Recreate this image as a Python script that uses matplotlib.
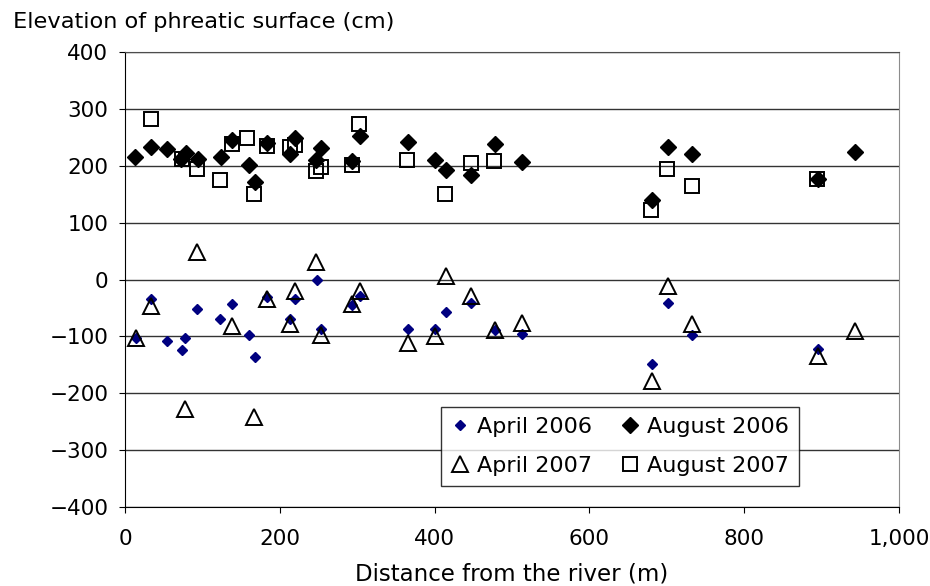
import numpy as np
import matplotlib.pyplot as plt
from matplotlib.ticker import FuncFormatter

# Datos (distancia en m, elevación en cm)
x_apr06 = [14, 33, 54, 74, 78, 93, 123, 138, 160, 168, 183, 213, 219, 248, 253,
           293, 303, 365, 401, 415, 447, 478, 513, 681, 701, 733, 895]
y_apr06 = [-103, -35, -109, -124, -103, -52, -70, -43, -98, -136, -30, -69, -35, 0, -87,
           -44, -29, -87, -87, -58, -42, -88, -95, -148, -41, -97, -123]

x_aug06 = [13, 33, 54, 72, 79, 94, 124, 138, 160, 168, 184, 213, 220, 247, 253,
           293, 304, 365, 401, 415, 447, 478, 513, 681, 701, 733, 895, 943]
y_aug06 = [215, 233, 229, 211, 222, 212, 215, 245, 201, 172, 240, 221, 248, 210, 231,
           209, 253, 242, 210, 192, 184, 238, 206, 140, 233, 221, 176, 225]

x_apr07 = [14, 34, 78, 93, 138, 167, 183, 213, 219, 247, 253, 293, 303, 365, 401,
           415, 447, 478, 513, 681, 701, 733, 895, 943]
y_apr07 = [-103, -46, -228, 48, -81, -241, -34, -78, -20, 30, -97, -43, -21, -112, -100,
           7, -29, -88, -76, -179, -12, -78, -135, -91]

x_aug07 = [33, 73, 93, 123, 138, 158, 167, 183, 213, 220, 247, 253, 293, 302, 364,
           414, 447, 477, 680, 700, 732, 894]
y_aug07 = [282, 211, 195, 175, 238, 249, 150, 235, 233, 237, 191, 197, 201, 273, 210,
           150, 205, 208, 122, 194, 164, 177]

plt.rcParams['font.family'] = 'DejaVu Sans'

fig = plt.figure(figsize=(9.3, 5.86), dpi=100)
ax = fig.add_axes([125 / 930, 1 - 507 / 586, 774 / 930, 455 / 586])

h1, = ax.plot(x_apr06, y_apr06, 'D', color='#000080', ms=5.5, mec='#000080', zorder=3, label='April 2006')
h2, = ax.plot(x_aug06, y_aug06, 'D', color='black', ms=8.5, zorder=3, label='August 2006')
h3, = ax.plot(x_apr07, y_apr07, '^', mfc='none', mec='black', mew=1.4, ms=11, zorder=4, label='April 2007')
h4, = ax.plot(x_aug07, y_aug07, 's', mfc='none', mec='black', mew=1.4, ms=10, zorder=4, label='August 2007')

ax.set_xlim(0, 1000)
ax.set_ylim(-400, 400)
ax.set_xticks(np.arange(0, 1001, 200))
ax.set_yticks(np.arange(-400, 401, 100))
ax.xaxis.set_major_formatter(FuncFormatter(lambda v, p: f'{int(v):,}'))
ax.yaxis.set_major_formatter(FuncFormatter(lambda v, p: f'{int(v)}'.replace('-', '\u2212')))
ax.grid(axis='y', color='0.2', lw=1)
ax.set_axisbelow(True)
ax.tick_params(labelsize=15.5, length=4.5, direction='out', color='black')
ax.tick_params(axis='x', pad=11.5)
ax.tick_params(axis='y', pad=7.5)

ax.spines['left'].set_color('black')
ax.spines['bottom'].set_color('black')
ax.spines['right'].set_color('0.55')
ax.spines['top'].set_color('0.3')

ax.set_xlabel('Distance from the river (m)', fontsize=16.5, labelpad=9.5)
fig.text(13 / 930, 1 - 28 / 586, 'Elevation of phreatic surface (cm)', fontsize=16.2,
         ha='left', va='baseline')

leg = ax.legend([h1, h3, h2, h4], ['April 2006', 'April 2007', 'August 2006', 'August 2007'],
                ncol=2, loc='upper left', bbox_to_anchor=(0.408, 0.22), borderaxespad=0,
                fontsize=16, frameon=True, fancybox=False, edgecolor='black',
                handlelength=0.8, handletextpad=0.36, columnspacing=1.35,
                borderpad=0.45, labelspacing=0.87)
leg.get_frame().set_linewidth(1)

fig.savefig('out.png', dpi=100)
